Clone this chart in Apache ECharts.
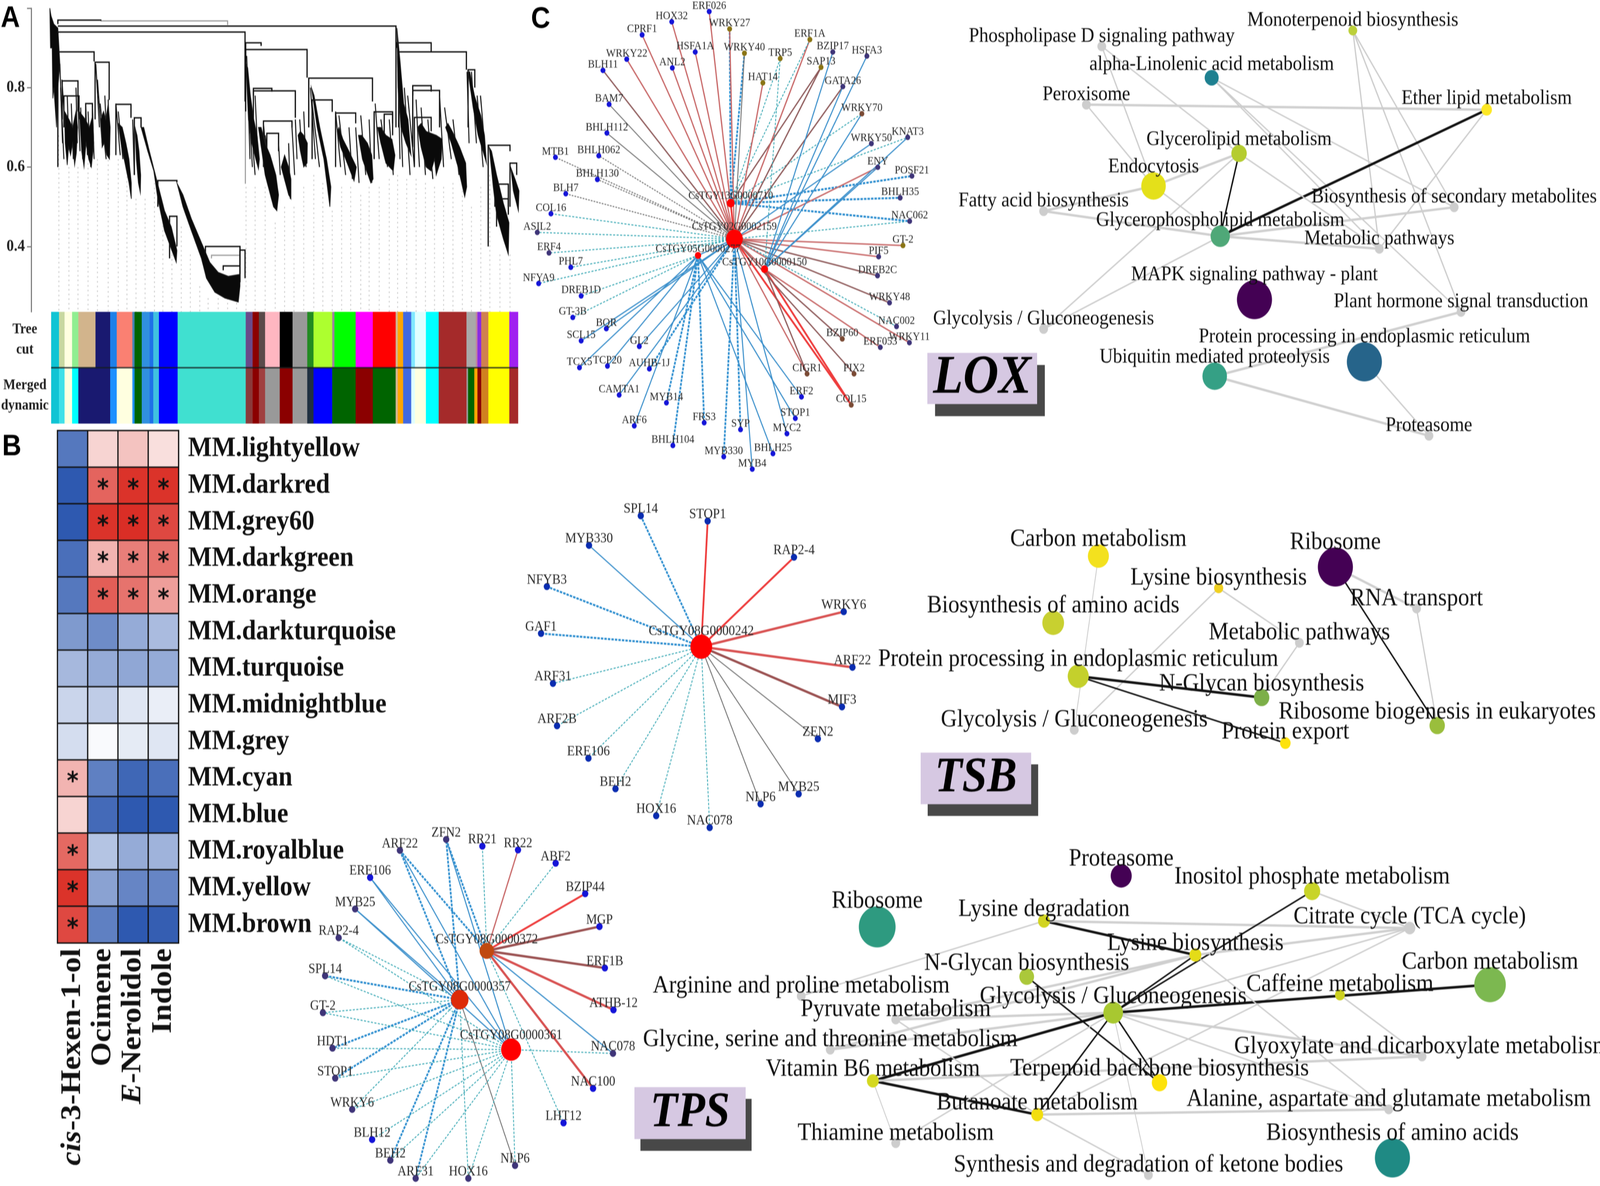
<!DOCTYPE html>
<html><head><meta charset="utf-8">
<style>html,body{margin:0;padding:0;background:#fff;overflow:hidden;width:100%;height:100%}#c{width:4562px;height:3035px;transform-origin:0 0;filter:blur(.8px)}</style>
<script src="https://cdn.jsdelivr.net/npm/echarts@6/dist/echarts.min.js"></script>
</head><body><div id="c"></div>
<script>
const SERIF='Liberation Serif';
/* ---------- A: dendrogram (x = leaf order, h = merge height) ---------- */
const dendroTicks=[0.4,0.6,0.8,1.0];
const dendroBrackets=[[172,300,.970,.960,.968],[732,778,.913,.88,.905],[172,1180,.955,.955,.70],[172,730,.940,.890,.765],
[172,280,.890,.60,.866],[283,325,.864,.72,.769],[345,390,.758,.63,.724],[400,420,.724,.58,.70],[185,232,.817,.72,.74],[190,235,.779,.70,.72],[255,275,.76,.70,.72],
[470,527,.566,.50,.562],[505,527,.476,.37,.40],[612,715,.400,.38,.35],[665,715,.351,.34,.32],[715,730,.391,.31,.32],
[732,915,.896,.74,.825],[920,1110,.824,.70,.765],[755,880,.792,.66,.724],[755,810,.798,.78,.79],[785,870,.716,.60,.70],[795,830,.685,.58,.64],
[930,990,.769,.62,.739],[1000,1060,.736,.60,.71],[1115,1170,.739,.62,.71],[1145,1170,.733,.66,.68],[1183,1285,.913,.90,.89],[1188,1390,.890,.70,.845],
[1230,1310,.793,.65,.70],[1230,1285,.805,.78,.79],[1235,1285,.725,.60,.69],[1395,1415,.845,.70,.80],[1455,1520,.655,.40,.64],[1520,1540,.610,.50,.58],[1475,1515,.557,.50,.50],[1480,1515,.52,.45,.48]];
const dendroGreyBrackets=[[300,678,.968,.968,.958],[630,715,.378,.37,.33],[730,731,.765,.765,.558]];
const dendroClusters=[
[[148,1],[150,.90],[155,.90],[157,.773],[160,.80],[168,.70],[172,.80],[178,.86],[172,.95],[160,.96],[152,.98]],
[[192,.74],[194,.66],[200,.605],[204,.65],[210,.63],[216,.66],[222,.605],[227,.635],[231,.70],[226,.74],[216,.70],[205,.72]],
[[236,.74],[243,.64],[250,.60],[256,.66],[264,.62],[272,.60],[279,.66],[276,.73],[266,.70],[254,.72]],
[[300,.72],[304,.65],[310,.66],[318,.63],[326,.62],[328,.70],[322,.76],[315,.72],[308,.74]],
[[352,.71],[362,.65],[372,.61],[384,.56],[391,.52],[391,.56],[384,.62],[375,.66],[364,.70]],
[[402,.70],[406,.62],[412,.56],[418,.535],[419,.58],[414,.64],[408,.68]],
[[420,.70],[440,.64],[458,.59],[470,.52],[490,.44],[525,.36],[527,.39],[510,.45],[490,.49],[472,.55],[460,.59],[442,.65],[428,.70]],
[[527,.56],[545,.50],[570,.44],[600,.37],[615,.32],[640,.285],[670,.27],[710,.26],[715,.30],[715,.33],[680,.325],[650,.335],[625,.36],[610,.39],[590,.43],[570,.47],[545,.53]],
[[733,.86],[740,.72],[750,.66],[762,.62],[770,.595],[773,.62],[766,.68],[756,.72],[746,.78],[738,.85]],
[[770,.70],[780,.64],[790,.58],[815,.50],[825,.49],[830,.53],[822,.58],[805,.63],[790,.66],[778,.70]],
[[838,.60],[860,.53],[867,.52],[867,.57],[860,.60],[848,.63]],
[[888,.68],[895,.64],[905,.60],[915,.61],[916,.66],[905,.68],[895,.69]],
[[928,.80],[945,.70],[965,.62],[983,.50],[986,.55],[973,.62],[953,.70],[936,.78]],
[[1005,.69],[1015,.65],[1030,.62],[1055,.565],[1062,.60],[1040,.64],[1022,.67],[1010,.70]],
[[1068,.68],[1080,.62],[1105,.56],[1112,.57],[1108,.63],[1095,.66],[1078,.68]],
[[1125,.70],[1135,.66],[1150,.61],[1172,.59],[1177,.63],[1168,.67],[1150,.68],[1135,.70]],
[[1183,.95],[1186,.80],[1195,.70],[1210,.66],[1225,.63],[1216,.72],[1203,.76],[1193,.86]],
[[1245,.70],[1255,.65],[1270,.60],[1285,.59],[1295,.62],[1300,.58],[1315,.62],[1318,.67],[1300,.68],[1270,.69],[1255,.71]],
[[1328,.70],[1345,.66],[1365,.60],[1385,.525],[1391,.55],[1388,.61],[1370,.65],[1348,.69],[1335,.71]],
[[1395,.84],[1410,.75],[1425,.68],[1450,.61],[1444,.68],[1433,.73],[1414,.78],[1400,.84]],
[[1458,.65],[1470,.55],[1480,.48],[1500,.42],[1515,.38],[1517,.46],[1500,.51],[1480,.58],[1465,.64]],
[[1522,.60],[1530,.54],[1545,.49],[1547,.54],[1535,.57]]];
const dendroStrands=[[178,.86,186,.66],[180,.80,190,.62],[184,.82,195,.68],[200,.78,205,.65],[212,.76,218,.62],[226,.80,230,.66],[232,.76,238,.64],[240,.75,246,.62],[255,.76,260,.63],[262,.74,270,.60],[275,.75,280,.62],[285,.86,296,.70],[290,.82,304,.66],[298,.76,316,.62],[322,.77,326,.63],[312,.78,318,.66],[345,.76,358,.63],[352,.74,366,.62],[395,.72,400,.58],[735,.88,745,.62],[738,.80,752,.60],[742,.78,760,.58],[760,.78,770,.60],[785,.71,800,.56],[790,.68,810,.53],[830,.66,835,.58],[860,.66,865,.52],[870,.70,878,.58],[880,.72,885,.62],[893,.72,900,.63],[905,.74,912,.60],[925,.80,940,.62],[930,.76,952,.60],[1000,.74,1015,.60],[1010,.73,1030,.58],[1040,.70,1050,.57],[1060,.70,1070,.56],[1075,.73,1090,.58],[1100,.72,1108,.56],[1118,.76,1130,.62],[1135,.72,1155,.60],[1160,.72,1172,.58],[1185,.88,1192,.62],[1190,.84,1200,.60],[1205,.80,1222,.58],[1215,.78,1235,.60],[1240,.77,1250,.60],[1255,.75,1268,.58],[1275,.72,1290,.57],[1310,.78,1322,.60],[1325,.75,1345,.62],[1350,.72,1368,.58],[1392,.84,1398,.66],[1405,.84,1420,.66],[1422,.78,1440,.60],[1432,.78,1448,.62]];
const guideX=[175,205,232,262,290,322,352,378,405,432,460,485,512,540,567,595,620,650,678,705,733,760,790,820,848,876,905,935,962,990,1018,1045,1075,1100,1130,1160,1185,1212,1240,1268,1295,1322,1350,1378,1405,1433,1460,1490,1520];
const guideTop=[.68,.60,.60,.61,.62,.63,.62,.60,.52,.52,.56,.5,.38,.45,.38,.3,.27,.27,.27,.27,.55,.55,.55,.46,.5,.5,.55,.58,.56,.49,.55,.55,.53,.55,.55,.57,.58,.57,.57,.56,.55,.55,.56,.54,.5,.55,.58,.38,.38];
/* module colour rows: [start, end, colour] */
const moduleRows=["Tree\ncut","Merged\ndynamic"];
const treeCut=[[25,50,'#10C4D4'],[50,68,'#C8D8A0'],[68,92,'#FFFFE0'],[92,112,'#90EE90'],[112,167,'#D2B48C'],[167,214,'#191970'],[214,235,'#1E80E8'],[235,285,'#FA8072'],[285,292,'#4682B4'],[292,315,'#006400'],[315,340,'#3090E0'],[340,352,'#1E70E8'],[352,370,'#40C0E0'],[370,430,'#0000FF'],[430,648,'#40E0D0'],[648,670,'#6A4A8A'],[670,690,'#8B0000'],[690,710,'#5A4A4A'],[710,757,'#FFB6C1'],[757,798,'#000000'],[798,845,'#999999'],[845,865,'#228B22'],[865,925,'#ADFF2F'],[925,932,'#A080A0'],[932,1000,'#00FF00'],[1000,1055,'#FF00FF'],[1055,1128,'#FF0000'],[1128,1135,'#D2B48C'],[1135,1152,'#FFA500'],[1152,1178,'#4169E1'],[1178,1190,'#80E8FF'],[1190,1225,'#E0FFFF'],[1225,1266,'#00FFFF'],[1266,1355,'#A52A2A'],[1355,1385,'#A9A9A9'],[1385,1390,'#C080A0'],[1390,1402,'#8A2BE2'],[1402,1425,'#D08050'],[1425,1492,'#FFFF00'],[1492,1520,'#A020F0']];
const mergedDynamic=[[25,50,'#10C4D4'],[50,68,'#40E0E8'],[68,92,'#FFFFE0'],[92,112,'#00FFFF'],[112,214,'#191970'],[214,235,'#1E90FF'],[235,285,'#FFFFE0'],[285,292,'#1E90FF'],[292,315,'#006400'],[315,340,'#3090E0'],[340,352,'#1E70E8'],[352,370,'#40C0E0'],[370,430,'#0000FF'],[430,648,'#40E0D0'],[648,670,'#8A3A3A'],[670,690,'#8B0000'],[690,710,'#A04040'],[710,757,'#999999'],[757,798,'#8B0000'],[798,845,'#999999'],[845,865,'#203040'],[865,925,'#0000FF'],[925,1000,'#006400'],[1000,1055,'#8B0000'],[1055,1128,'#006400'],[1128,1135,'#D2B48C'],[1135,1152,'#FFA500'],[1152,1178,'#4169E1'],[1178,1190,'#E0FFFF'],[1190,1225,'#FFFFE0'],[1225,1266,'#00FFFF'],[1266,1355,'#A52A2A'],[1355,1360,'#999999'],[1360,1380,'#006400'],[1380,1390,'#FFA500'],[1390,1402,'#8B0000'],[1402,1425,'#D08020'],[1425,1492,'#FFFF00'],[1492,1520,'#A52A2A']];
/* ---------- B: module-trait heatmap ---------- */
const traits=["cis-3-Hexen-1-ol","Ocimene","E-Nerolidol","Indole"];
const modules=["MM.lightyellow","MM.darkred","MM.grey60","MM.darkgreen","MM.orange","MM.darkturquoise","MM.turquoise","MM.midnightblue","MM.grey","MM.cyan","MM.blue","MM.royalblue","MM.yellow","MM.brown"];
const correlations=[[-.8,.2,.28,.15],[-.98,.72,.95,.95],[-.98,.95,.97,.85],[-.85,.35,.6,.65],[-.8,.75,.65,.45],[-.6,-.68,-.5,-.4],[-.42,-.5,-.52,-.5],[-.25,-.3,-.15,-.1],[-.2,-.03,-.12,-.15],[.35,-.75,-.9,-.85],[.2,-.88,-.98,-.98],[.7,-.35,-.5,-.45],[.95,-.55,-.72,-.72],[.85,-.75,-.98,-.95]];
const significant=["0000","0111","0111","0111","0111","0000","0000","0000","0000","1000","0000","1000","1000","1000"];
/* ---------- C: hub-gene networks. TF = [name,x,y,colourKey,"hub+style ..."] ---------- */
const nodeColors={u:'#1414D8',p:'#3E3478',o:'#8A7414',w:'#7A4A34',n:'#0A2CB0'};
const edgeStyles={r:{color:'#C86868',width:3.5},R:{color:'#EE3C3C',width:5},S:{color:'#D85050',width:6},n:{color:'#8E5A5A',width:3.5},N:{color:'#9A5050',width:6},g:{color:'#707070',width:2.5},d:{color:'#707070',width:2.5,type:[5,3]},b:{color:'#3A8FCB',width:3},B:{color:'#2F8FD0',width:5,type:[7,3]},t:{color:'#38A8B4',width:2.5,type:[6,4]}};
const loxHubs=[["CsTGY02G0002159",770,767,48],["CsTGY13G0000710",757,652,22],["CsTGY05G0000277",640,820,18],["CsTGY10G0000150",878,864,20]];
const loxHubLinks=[[1,0,'R'],[3,0,'r'],[2,0,'b']];
const loxTFs=[["ERF026",680,37,'u','0r'],["HOX32",546,70,'u','0r'],["CPRF1",440,112,'u','0r'],["WRKY22",385,190,'u','0r'],["BLH11",300,226,'u','0n'],["BAM7",322,335,'u','0g'],["BHLH112",314,427,'u','0g'],["BHLH062",285,500,'u','0d'],["MTB1",130,505,'u','0d'],["BHLH130",280,576,'u','0d'],["BLH7",167,622,'u','0d'],["COL16",114,686,'u','0t'],["ASIL2",65,746,'p','0t'],["ERF4",107,812,'p','0t'],["PHL7",185,858,'u','0t'],["NFYA9",70,910,'u','0t'],["DREB1D",222,950,'u','2t'],["GT-3B",192,1019,'u','2t'],["BQR",312,1055,'u','0b'],["SCL15",222,1094,'u','0b'],["GL2",430,1112,'u','0b'],["TCX5",216,1180,'u','2b'],["TCP20",316,1175,'u','2b'],["AUHB-1J",466,1184,'u','0B'],["CAMTA1",358,1268,'u','0b'],["ARF6",412,1367,'u','2b'],["MYB14",527,1293,'u','2B'],["BHLH104",550,1430,'u','2B'],["FRS3",662,1357,'u','2B'],["SYP",792,1379,'u','0B'],["MYB330",732,1466,'u','0B'],["MYB4",834,1506,'u','0b'],["BHLH25",908,1456,'u','2b'],["MYC2",958,1392,'u','0b'],["STOP1",988,1343,'u','2b'],["ERF2",1010,1274,'u','2b'],["COL15",1188,1300,'w','0R 3R'],["CIGR1",1030,1200,'w','0r 3n'],["PIX2",1198,1200,'w','0n'],["BZIP60",1156,1088,'w','3n'],["ERF053",1292,1115,'p','3r'],["WRKY11",1396,1100,'p','0r'],["NAC002",1350,1048,'p','0t'],["WRKY48",1325,972,'p','0n'],["DREB2C",1282,885,'p','0n'],["PIF5",1286,824,'p','0r'],["GT-2",1373,788,'o','0r'],["NAC062",1397,710,'p','0t 1B'],["BHLH35",1363,635,'p','1B'],["POSF21",1405,565,'p','1B'],["ENY",1283,537,'p','0r 3b'],["KNAT3",1390,441,'p','1t 3b'],["WRKY50",1260,461,'p','0b'],["WRKY70",1226,365,'w','3b 1t'],["GATA26",1158,278,'p','0n 3b'],["HSFA3",1244,180,'p','3b'],["BZIP17",1122,167,'p','3b'],["SAP13",1080,216,'o','0n 1n'],["ERF1A",1040,127,'o','0r 1t'],["TRP5",934,188,'o','1t 3t'],["HAT14",872,266,'o','0r'],["WRKY40",806,171,'o','1B 0g'],["WRKY27",753,93,'o','1B 0r'],["HSFA1A",630,167,'u','0r'],["ANL2",548,218,'u','0r']];
const tsbHubs=[["CsTGY08G0000242",723,718,62]];
const tsbTFs=[["SPL14",515,165,'n','0B'],["STOP1",745,187,'n','0R'],["RAP2-4",1042,340,'n','0R'],["WRKY6",1213,570,'n','0S'],["ARF22",1243,805,'n','0S'],["MIF3",1207,972,'n','0N'],["ZEN2",1124,1107,'n','0g'],["MYB25",1058,1340,'n','0g'],["NLP6",927,1382,'n','0g'],["NAC078",752,1482,'n','0t'],["HOX16",568,1432,'n','0t'],["BEH2",428,1318,'n','0t'],["ERE106",335,1189,'n','0t'],["ARF2B",227,1052,'n','0t'],["ARF31",213,873,'n','0t'],["GAF1",172,662,'n','0B'],["NFYB3",192,464,'n','0B'],["MYB330",337,290,'n','0b']];
const tpsHubs=[["CsTGY08G0000372",838,580,41,'#C04A10'],["CsTGY08G0000357",728,785,50,'#DD2A08'],["CsTGY08G0000361",937,995,57,'#FF0000']];
const tpsTFs=[["ZFN2",673,112,'p','0B 1B 2b'],["ARF22",485,158,'p','0B 1B 2b'],["RR21",820,140,'u','0t'],["RR22",965,156,'u','0r'],["ABF2",1118,212,'u','0t'],["BZIP44",1238,340,'u','0R'],["MGP",1296,478,'u','0N'],["ERF1B",1318,652,'u','0N'],["ATHB-12",1353,828,'u','0S'],["NAC078",1351,1011,'p','0b 2t'],["NAC100",1270,1158,'u','0S'],["LHT12",1150,1303,'u','0t'],["NLP6",953,1482,'p','1g 2t'],["HOX16",763,1536,'p','1t 2t'],["ARF31",549,1536,'p','1B 2t'],["BEH2",446,1460,'p','1B 2t'],["BLH12",372,1373,'u','2t'],["WRKY6",291,1246,'p','1t 2t'],["STOP1",222,1115,'p','1B 2t'],["HDT1",211,989,'p','1B 2t'],["GT-2",172,840,'p','1t 2t'],["SPL14",181,685,'p','1B 2t'],["RAP2-4",236,525,'p','1t 2t'],["MYB25",303,404,'p','1b 2b'],["ERE106",364,272,'u','1b 2b']];
/* ---------- C: pathway networks. node = [name,x,y,size,colour] ---------- */
const GREY='#CDCDCD';
const loxPathways=[["Monoterpenoid biosynthesis",990,102,25,'#BCD03A'],["Phospholipase D signaling pathway",403,155,25,GREY],["alpha-Linolenic acid metabolism",660,260,40,'#1E8090'],["Peroxisome",367,350,25,GREY],["Ether lipid metabolism",1303,367,30,'#FDE725'],["Glycerolipid metabolism",724,513,44,'#B5CC30'],["Endocytosis",524,622,70,'#E4E01A'],["Fatty acid biosynthesis",267,706,25,GREY],["Biosynthesis of secondary metabolites",1227,693,25,GREY],["Glycerophospholipid metabolism",680,790,55,'#4FA878'],["Metabolic pathways",1052,832,25,GREY],["MAPK signaling pathway - plant",760,1002,100,'#440154'],["Plant hormone signal transduction",1243,1043,25,GREY],["Glycolysis / Gluconeogenesis",267,1100,25,GREY],["Protein processing in endoplasmic reticulum",1017,1210,100,'#26648A'],["Ubiquitin mediated proteolysis",667,1258,70,'#35A085'],["Proteasome",1168,1457,25,GREY]];
const loxPathLinks=[[1,6,'g'],[1,5,'g'],[3,4,'G'],[3,6,'g'],[2,8,'g'],[2,10,'g'],[2,12,'g'],[0,10,'g'],[0,12,'g'],[0,8,'g'],[4,10,'g'],[4,9,'K'],[5,9,'k'],[6,5,'G'],[6,7,'G'],[7,9,'G'],[6,9,'g'],[9,8,'G'],[9,10,'G'],[9,13,'g'],[5,13,'g'],[5,10,'g'],[15,12,'G'],[15,16,'G'],[14,16,'g']];
const tsbPathways=[["Carbon metabolism",425,249,60,'#F3E11E'],["Ribosome",965,298,100,'#440154'],["Lysine biosynthesis",699,392,26,'#F0D020'],["RNA transport",1150,483,25,GREY],["Biosynthesis of amino acids",322,547,62,'#C8D030'],["Metabolic pathways",883,636,25,GREY],["Protein processing in endoplasmic reticulum",379,785,60,'#C4D02C'],["N-Glycan biosynthesis",797,880,44,'#7CAF48'],["Ribosome biogenesis in eukaryotes",1197,1005,44,'#9ABE3C'],["Glycolysis / Gluconeogenesis",370,1024,25,GREY],["Protein export",851,1083,30,'#FDE20C']];
const tsbPathLinks=[[0,9,'f'],[2,9,'g'],[2,5,'g'],[5,7,'g'],[6,7,'K'],[6,10,'k'],[1,3,'G'],[3,8,'g'],[1,8,'k']];
const tpsPathways=[["Proteasome",793,208,60,'#440154'],["Inositol phosphate metabolism",1102,275,46,'#C8D428'],["Ribosome",398,432,105,'#2E9A80'],["Lysine degradation",668,406,34,'#D2D420'],["Citrate cycle (TCA cycle)",1260,437,32,GREY],["Lysine biosynthesis",913,555,34,'#E4DC18'],["N-Glycan biosynthesis",640,650,42,'#ABC83A'],["Carbon metabolism",1390,685,90,'#7CB850'],["Caffeine metabolism",1147,730,28,'#CCD020'],["Arginine and proline metabolism",275,735,25,GREY],["Glycolysis / Gluconeogenesis",780,808,56,'#A8C830'],["Pyruvate metabolism",428,838,25,GREY],["Glycine, serine and threonine metabolism",322,970,25,GREY],["Glyoxylate and dicarboxylate metabolism",1280,1000,25,GREY],["Vitamin B6 metabolism",391,1107,34,'#D4D820'],["Terpenoid backbone biosynthesis",855,1115,44,'#FDE20C'],["Butanoate metabolism",657,1255,34,'#F2DE10'],["Alanine, aspartate and glutamate metabolism",1226,1232,25,GREY],["Thiamine metabolism",428,1380,25,GREY],["Biosynthesis of amino acids",1232,1445,100,'#1F8A84'],["Synthesis and degradation of ketone bodies",837,1520,25,GREY]];
const tpsPathLinks=[[3,5,'K'],[3,4,'G'],[3,9,'g'],[1,4,'g'],[1,10,'k'],[5,10,'k'],[5,4,'G'],[5,11,'G'],[5,12,'G'],[4,10,'g'],[4,16,'g'],[10,7,'K'],[8,13,'g'],[5,17,'g'],[10,11,'G'],[10,12,'G'],[10,13,'G'],[10,17,'g'],[10,14,'K'],[10,16,'k'],[10,15,'k'],[10,20,'f'],[6,15,'k'],[14,16,'K'],[14,13,'G'],[14,18,'f'],[16,17,'G'],[16,20,'g'],[11,16,'g'],[10,18,'g']];
const pathStyles={f:{color:'#CFCFCF',width:2.5},g:{color:'#CCCCCC',width:3.5},G:{color:'#CFCFCF',width:6},k:{color:'#111111',width:4},K:{color:'#111111',width:6.5}};

/* layout */
const panels=[
 {l:1480,t:0,w:1250,h:1250},{l:2650,t:0,w:1912,h:1200},{l:1400,t:1220,w:1300,h:950},
 {l:2600,t:1280,w:1962,h:900},{l:800,t:2080,w:1100,h:955},{l:1800,t:2120,w:2762,h:915}];
const grid=[{left:142,top:21,width:1336,height:777},{left:142,top:798,width:1335,height:286},{left:164,top:1102,width:345,height:1311}]
 .concat(panels.map(p=>({left:p.l,top:p.t,width:p.w,height:p.h})));
const hiddenNum=(i,min,max,inv)=>({type:'value',gridIndex:i,min,max,inverse:!!inv,show:false});
const xAxis=[hiddenNum(0,148,1545),hiddenNum(1,25,1520),
 {type:'category',gridIndex:2,position:'top',data:traits,axisLine:{lineStyle:{color:'#555',width:3}},axisTick:{length:16,alignWithLabel:true,lineStyle:{color:'#555',width:3}},axisLabel:{show:false}},
 {type:'category',gridIndex:2,position:'bottom',data:traits,axisLine:{show:false},axisTick:{show:false},
  axisLabel:{rotate:90,margin:14,interval:0,color:'#111',
   formatter:v=>v.startsWith('cis')?'{i|cis}{b|-3-Hexen-1-ol}':v.startsWith('E-')?'{i|E}{b|-Nerolidol}':'{b|'+v+'}',
   rich:{i:{fontFamily:SERIF,fontSize:80,fontStyle:'italic',fontWeight:'bold',color:'#111'},b:{fontFamily:SERIF,fontSize:80,fontWeight:'bold',color:'#111'}}}}];
const yAxis=[
 {type:'value',gridIndex:0,min:.2355,max:1,offset:53,position:'left',splitLine:{show:false},
  axisLine:{show:true,lineStyle:{color:'#777',width:3}},
  axisTick:{show:true,customValues:dendroTicks,length:12,lineStyle:{color:'#777',width:3}},
  axisLabel:{customValues:[.4,.6,.8],margin:18,fontFamily:SERIF,fontSize:42,fontWeight:'bold',color:'#222',formatter:v=>v.toFixed(1)}},
 {type:'category',gridIndex:1,inverse:true,data:moduleRows,axisLine:{show:false},axisTick:{show:false},
  axisLabel:{margin:75,align:'center',fontFamily:SERIF,fontSize:37,fontWeight:'bold',lineHeight:52,color:'#222'}},
 {type:'category',gridIndex:2,inverse:true,position:'left',data:modules,axisLine:{show:false},axisTick:{length:12,alignWithLabel:true,lineStyle:{color:'#555',width:2}},axisLabel:{show:false}},
 {type:'category',gridIndex:2,inverse:true,position:'right',data:modules,axisLine:{show:false},axisTick:{show:false},
  axisLabel:{margin:27,interval:0,fontFamily:SERIF,fontSize:72,fontWeight:'bold',color:'#111'}}];
panels.forEach((p,i)=>{xAxis.push(hiddenNum(3+i,0,1568));yAxis.push(hiddenNum(3+i,0,1568,true));});

function bracketSeries(data,color,width,z){
 return {type:'custom',xAxisIndex:0,yAxisIndex:0,silent:true,z,data,clip:false,encode:{x:[0,1],y:2},
  renderItem:(p,api)=>{const a=[api.value(0),api.value(1),api.value(2),api.value(3),api.value(4)];
   const pts=[[a[0],a[3]],[a[0],a[2]],[a[1],a[2]],[a[1],a[4]]].map(q=>api.coord(q));
   return {type:'polyline',shape:{points:pts},style:{stroke:color,lineWidth:width,fill:null}};}};
}
const series=[
 {type:'custom',xAxisIndex:0,yAxisIndex:0,silent:true,z:1,data:guideX.map((x,i)=>[x,guideTop[i]]),
  renderItem:(p,api)=>{const a=api.coord([api.value(0),api.value(1)]),b=api.coord([api.value(0),.2355]);
   return {type:'line',shape:{x1:a[0],y1:a[1],x2:b[0],y2:b[1]},style:{stroke:'#C8C8C8',lineWidth:2.5,lineDash:[4,8]}};}},
 bracketSeries(dendroGreyBrackets,'#999',3,2),
 bracketSeries(dendroBrackets,'#111',3.5,3),
 {type:'custom',xAxisIndex:0,yAxisIndex:0,silent:true,z:3,clip:false,data:dendroStrands,encode:{x:[0,2],y:[1,3]},
  renderItem:(p,api)=>{const a=api.coord([api.value(0),api.value(1)]),b=api.coord([api.value(2),api.value(3)]);
   return {type:'line',shape:{x1:a[0],y1:a[1],x2:b[0],y2:b[1]},style:{stroke:'#1A1A1A',lineWidth:3}};}},
 {type:'custom',xAxisIndex:0,yAxisIndex:0,silent:true,z:4,clip:false,data:dendroClusters.map((c,i)=>[c[0][0],c[0][1],i]),
  renderItem:(p,api)=>({type:'polygon',shape:{points:dendroClusters[api.value(2)].map(q=>api.coord(q))},style:{fill:'#0A0A0A',stroke:'#222',lineWidth:2}})},
 ...[treeCut,mergedDynamic].map((row,r)=>({type:'custom',xAxisIndex:1,yAxisIndex:1,silent:true,z:2,
  data:row.map(s=>[s[0],s[1],r,s[2]]),encode:{x:[0,1],y:2},
  renderItem:(p,api)=>{const a=api.coord([api.value(0),api.value(2)]),b=api.coord([api.value(1),api.value(2)]),h=api.size([0,1])[1];
   return {type:'rect',shape:{x:a[0],y:a[1]-h/2,width:b[0]-a[0]+.5,height:h},style:{fill:row[p.dataIndex][2]}};}})),
 {type:'custom',xAxisIndex:1,yAxisIndex:1,silent:true,z:3,data:[[25,1520]],encode:{x:[0,1]},
  renderItem:(p,api)=>{const a=api.coord([api.value(0),0]),b=api.coord([api.value(1),0]),h=api.size([0,1])[1];
   return {type:'line',shape:{x1:a[0],y1:a[1]+h/2,x2:b[0],y2:a[1]+h/2},style:{stroke:'rgba(20,30,30,.75)',lineWidth:4}};}},
 {type:'heatmap',xAxisIndex:2,yAxisIndex:2,z:3,
  data:correlations.flatMap((row,r)=>row.map((v,c)=>[c,r,v,significant[r][c]==='1'?'*':''])),
  itemStyle:{borderColor:'#111',borderWidth:3.5},
  label:{show:true,formatter:p=>p.data[3],fontFamily:'DejaVu Sans',fontWeight:'bold',fontSize:64,color:'#111',offset:[0,12]}}];

function hubSeries(idx,hubs,tfs,hubLinks,fontSize,dist){
 const nodes=[],links=[];
 hubs.forEach(h=>nodes.push({name:h[0],value:[h[1],h[2]],symbolSize:h[3],itemStyle:{color:h[4]||'#FF0000'},z:3}));
 tfs.forEach(t=>{nodes.push({name:t[0],value:[t[1],t[2]],symbolSize:idx===4?14:18,itemStyle:{color:nodeColors[t[3]]}});
  t[4].split(' ').forEach(e=>links.push({source:hubs[+e[0]][0],target:t[0],lineStyle:{type:'solid',opacity:1,curveness:0,...edgeStyles[e[1]]}}));});
 (hubLinks||[]).forEach(l=>links.push({source:hubs[l[0]][0],target:hubs[l[1]][0],lineStyle:{type:'solid',opacity:1,...edgeStyles[l[2]]}}));
 return {type:'graph',coordinateSystem:'cartesian2d',xAxisIndex:idx,yAxisIndex:idx,layout:'none',roam:false,silent:true,z:5,data:nodes,links,
  label:{show:true,position:'top',distance:dist,fontFamily:SERIF,fontSize,color:'#2A2A2A'},lineStyle:{opacity:1}};
}
function pathSeries(idx,nodesIn,linksIn,fontSize,dist){
 return {type:'graph',coordinateSystem:'cartesian2d',xAxisIndex:idx,yAxisIndex:idx,layout:'none',roam:false,silent:true,z:5,
  data:nodesIn.map(n=>({name:n[0],value:[n[1],n[2]],symbolSize:n[3],itemStyle:{color:n[4]}})),
  links:linksIn.map(l=>({source:nodesIn[l[0]][0],target:nodesIn[l[1]][0],lineStyle:{type:'solid',opacity:1,...pathStyles[l[2]]}})),
  label:{show:true,position:'top',distance:dist,fontFamily:SERIF,fontSize,color:'#111'},lineStyle:{opacity:1}};
}
series.push(hubSeries(4,loxHubs,loxTFs,loxHubLinks,29,-7),pathSeries(5,loxPathways,loxPathLinks,53,-13),
 hubSeries(6,tsbHubs,tsbTFs,null,36,-10),pathSeries(7,tsbPathways,tsbPathLinks,64,-19),
 hubSeries(8,tpsHubs,tpsTFs,null,35,-10),pathSeries(9,tpsPathways,tpsPathLinks,64,-19));

/* badges and panel letters */
const badge=(txt,x,y,w,h,sx,sy,size)=>[
 {type:'rect',shape:{x:x+sx,y:y+sy,width:w,height:h},style:{fill:'#484848'},z:20},
 {type:'rect',shape:{x,y,width:w,height:h},style:{fill:'#D6C8E2'},z:21},
 {type:'text',x:x+w/2,y:y+h/2,style:{text:txt,x:0,y:0,align:'center',verticalAlign:'middle',fontFamily:SERIF,fontSize:size,fontStyle:'italic',fontWeight:'bold',fill:'#000'},z:22}];
const letter=(t,x,y)=>({type:'text',x,y,style:{text:t,fontFamily:'Liberation Sans',fontWeight:'bold',fontSize:76,fill:'#000'},z:30});
const graphic=[...badge('LOX',2644,903,313,131,22,31,140),...badge('TSB',2625,1926,315,132,20,30,128),...badge('TPS',1809,2782,317,133,17,30,128),
 letter('A',2,10),letter('B',6,1106),letter('C',1514,12)];

/* the window may be smaller than the 4562x3035 design: fit the whole figure into it */
const el=document.getElementById('c');
el.style.transform='scale('+(innerWidth/4562)+','+(innerHeight/3035)+')';
const chart=echarts.init(el,null,{width:4562,height:3035});
chart.setOption({animation:false,backgroundColor:'#fff',grid,xAxis,yAxis,series,graphic,
 visualMap:{show:false,type:'continuous',min:-1,max:1,dimension:2,seriesIndex:series.findIndex(s=>s.type==='heatmap'),inRange:{color:['#2A56AE','#FFFFFF','#D9281F']}}});
</script></body></html>
